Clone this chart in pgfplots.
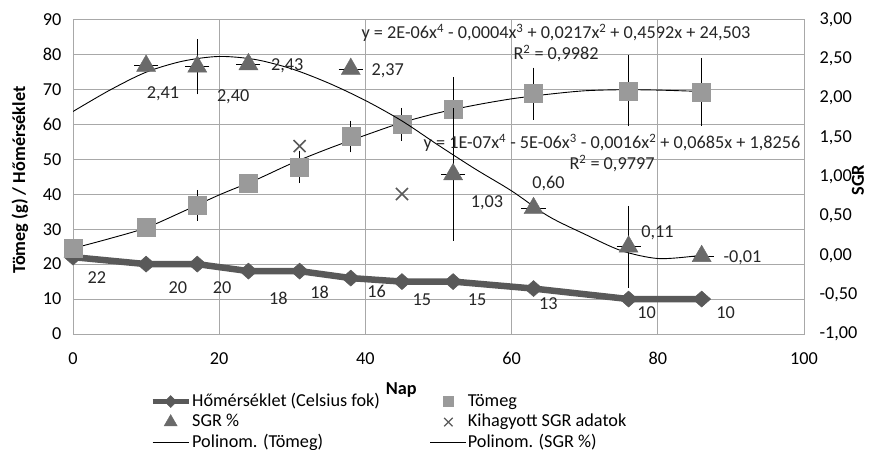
\documentclass[border=0pt]{standalone}
\usepackage{fontspec}
\setmainfont{Carlito}
\usepackage{pgfplots}
\pgfplotsset{compat=1.18}
\usepackage{pgfplotstable}

\definecolor{tempc}{HTML}{595959}
\definecolor{massc}{HTML}{9A9A9A}
\definecolor{sgrc}{HTML}{6A6A6A}
\definecolor{gridc}{HTML}{A8A8A8}

% Hőmérséklet (Celsius fok); lx, ly: a címke eltolása
\pgfplotstableread{
x   y   lx  ly
0   22  24 -21
10  20  32 -24
17  20  25 -24
24  18  30 -27
31  18  20 -21
38  16  26 -13
45  15  20 -18
52  15  24 -18
63  13  15 -15
76  10  18 -14
86  10  24 -14
}\homerseklet

% Tömeg (g), e: hibasáv
\pgfplotstableread{
x   y     e
0   24.6  0
10  30.7  0
17  36.8  3.3
24  43.2  0
31  47.8  3.5
38  56.5  3.4
45  60.0  3.6
52  64.2  8.1
63  68.8  6.3
76  69.6  9.0
86  69.3  8.6
}\tomeg

% SGR %
\pgfplotstableread{
x   y      ex   ey    lx  ly
10  2.41   1.1  0     17 -28
17  2.40   1.1  0.30  36 -30
24  2.43   1.1  0     39  -1
38  2.37   1.1  0     37  -2
52  1.03   1.1  0.79  34 -28
63  0.60   1.1  0     15  25
76  0.11   1.1  0.47  29  14
86  -0.01  1.1  0     41  -2
}\sgr

\pgfplotstableread{
x   y
31  1.39
45  0.78
}\kihagyott

% trendvonalak
\pgfplotstableread{
x   y
0   24.5
5   27.3
10  30.4
15  35.0
20  39.8
25  44.1
30  48.9
35  53.1
40  56.9
45  60.5
50  63.3
55  65.5
60  67.3
65  68.6
70  69.6
75  69.9
80  69.8
86  69.4
}\tomegtrend

\pgfplotstableread{
x   y
0   1.83
5   2.10
10  2.33
15  2.47
20  2.53
25  2.49
30  2.37
35  2.19
40  1.97
45  1.71
50  1.40
55  1.10
60  0.82
65  0.50
70  0.27
75  0.06
80  -0.04
85  -0.01
86  0.01
}\sgrtrend

\newcommand{\fnt}{\fontsize{18.3}{22}\selectfont}

\pgfplotsset{
  legend image code/.code={%
    \pgfpathrectangle{\pgfpoint{0bp}{-6bp}}{\pgfpoint{36bp}{12bp}}\pgfusepath{discard}%
    \draw[mark repeat=2,mark phase=2,#1] plot coordinates {(0bp,0bp) (18bp,0bp) (36bp,0bp)};},
  base/.style={
    scale only axis, width=731bp, height=314.5bp,
    xmin=0, xmax=100,
    major tick length=0pt,
    scaled ticks=false,
    /pgf/number format/assume math mode=true,
    tick label style={font=\fnt},
    label style={font=\bfseries\fnt},
    axis line style={gridc, line width=0.8bp},
  },
  tempstyle/.style={tempc, line width=6.5bp, mark=diamond*, mark size=8bp, mark options={xscale=1.5, line width=0.5bp, fill=tempc}},
  massstyle/.style={only marks, mark=square*, mark size=9bp, mark options={massc, fill=massc}},
  sgrstyle/.style={only marks, mark=triangle*, mark size=11bp, mark options={sgrc, fill=sgrc}},
  xstyle/.style={only marks, mark=x, mark size=8.5bp, mark options={tempc, line width=1.6bp}},
  trendstyle/.style={black, line width=0.9bp, smooth, no marks},
  lbl/.style={
    nodes near coords={\pgfmathprintnumber[#1]{\pgfplotspointmeta}},
    point meta=explicit,
    visualization depends on={\thisrow{lx} \as \lblx},
    visualization depends on={\thisrow{ly} \as \lbly},
    every node near coord/.append style={anchor=center, xshift=\lblx pt, yshift=\lbly pt, text=black!85, font=\fnt, inner sep=0pt},
  },
}

\begin{document}%
\begin{tikzpicture}
\useasboundingbox (-73bp,-116bp) rectangle (796bp,334bp);
\begin{axis}[
  base,
  ymin=0, ymax=90,
  ytick={0,10,...,90},
  xtick={0,20,...,100},
  grid=major,
  grid style={gridc, line width=0.8bp},
  yticklabel style={xshift=-8bp},
  xticklabel style={yshift=-15bp},
  xlabel={Nap},
  ylabel={Tömeg (g) / Hőmérséklet},
  xlabel style={at={(axis description cs:0.449,-0.178)}, anchor=center},
  ylabel style={at={(axis description cs:-0.0725,0.49)}, anchor=center},
]
\addplot[tempstyle, lbl={fixed,precision=0}] table[x=x, y=y, meta=y] {\homerseklet};
\addplot[massstyle, error bars/.cd, y dir=both, y explicit,
  error bar style={black, line width=1bp},
  error mark options={black, line width=1bp, mark size=4bp}]
  table[x=x, y=y, y error=e] {\tomeg};
\addplot[trendstyle] table[x=x, y=y] {\tomegtrend};
\end{axis}

\begin{axis}[
  base,
  ymin=-1, ymax=3,
  ytick={-1,-0.5,...,3},
  axis x line=none,
  axis y line*=right,
  yticklabel style={xshift=12bp, /pgf/number format/fixed, /pgf/number format/fixed zerofill, /pgf/number format/precision=2, /pgf/number format/use comma},
  legend columns=2,
  legend cell align=left,
  legend style={at={(axis description cs:0.1053,-0.184)}, anchor=north west,
    draw=none, fill=none, font=\fnt, inner sep=0pt, row sep=1.5bp,
    nodes={inner sep=1bp, text height=13bp, text depth=4bp},
    /tikz/every even column/.append style={column sep=49bp}},
]
\addlegendimage{tempc, line width=5bp, mark=diamond*, mark size=6bp, mark options={xscale=1.3, line width=0.5bp, fill=tempc}}
\addlegendentry{Hőmérséklet (Celsius fok)}
\addlegendimage{only marks, mark=square*, mark size=5bp, mark options={massc, fill=massc}}
\addlegendentry{Tömeg}
\addlegendimage{only marks, mark=triangle*, mark size=7.5bp, mark options={sgrc, fill=sgrc}}
\addlegendentry{SGR \%}
\addlegendimage{only marks, mark=x, mark size=6bp, mark options={tempc, line width=1.2bp}}
\addlegendentry{Kihagyott SGR adatok}
\addlegendimage{black, line width=0.9bp}
\addlegendentry{Polinom. (Tömeg)}
\addlegendimage{black, line width=0.9bp}
\addlegendentry{Polinom. (SGR \%)}

\addplot[sgrstyle, forget plot, lbl={fixed,fixed zerofill,precision=2,use comma},
  error bars/.cd, x dir=both, x explicit, y dir=both, y explicit,
  error bar style={black, line width=1bp},
  error mark options={black, line width=1bp, mark size=4bp}]
  table[x=x, y=y, x error=ex, y error=ey, meta=y] {\sgr};
\addplot[xstyle, forget plot] table[x=x, y=y] {\kihagyott};
\addplot[trendstyle, forget plot] table[x=x, y=y] {\sgrtrend};
\end{axis}

\node[rotate=90, font=\bfseries\fnt] at (785bp,154bp) {SGR};
\node[align=center, font=\fontsize{18.3}{21}\selectfont, text=black!85] at (483bp,291bp)
  {y = 2E-06x\textsuperscript{4} - 0,0004x\textsuperscript{3} + 0,0217x\textsuperscript{2} + 0,4592x + 24,503\\R\textsuperscript{2} = 0,9982};
\node[align=center, font=\fontsize{18.3}{21}\selectfont, text=black!85] at (539bp,181bp)
  {y = 1E-07x\textsuperscript{4} - 5E-06x\textsuperscript{3} - 0,0016x\textsuperscript{2} + 0,0685x + 1,8256\\R\textsuperscript{2} = 0,9797};
\end{tikzpicture}%
\end{document}
